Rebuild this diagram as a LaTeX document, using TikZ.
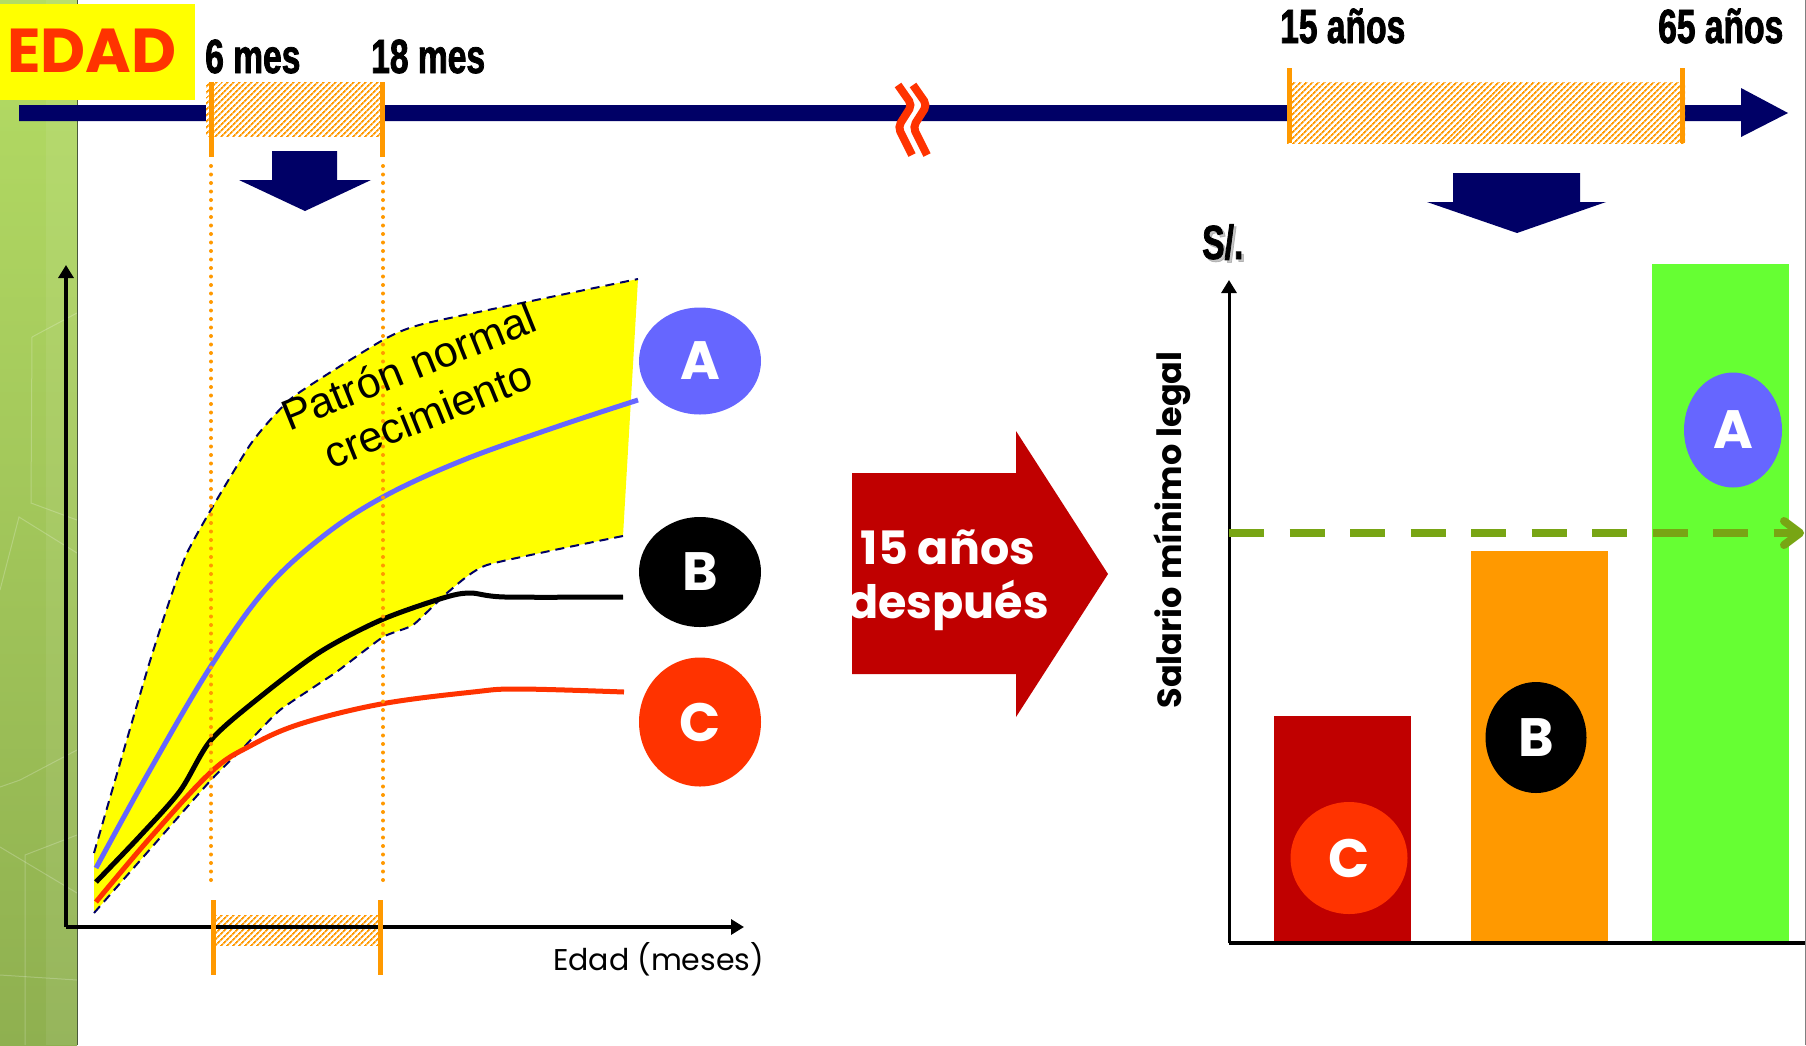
\documentclass[tikz,border=0pt]{standalone}
\usepackage{fontspec}
\usetikzlibrary{patterns.meta,shapes.geometric,arrows.meta}
\setmainfont{Liberation Sans}
\newfontfamily\gothicfam{Poppins}
\newfontfamily\impactfam[FakeStretch=0.70,FakeBold=1.6]{Liberation Sans}
\definecolor{navyb}{HTML}{000066}
\definecolor{orng}{HTML}{FF9900}
\definecolor{redor}{HTML}{FF3300}
\definecolor{darkred}{HTML}{C00000}
\definecolor{blueA}{HTML}{6666FF}
\definecolor{limeg}{HTML}{66FF33}
\definecolor{olivegr}{HTML}{78A514}
\definecolor{yel}{HTML}{FFFF00}
\definecolor{stripTop}{HTML}{B4DC64}
\definecolor{stripBot}{HTML}{8FB050}
\definecolor{edgegray}{HTML}{4A5A3A}
\newcommand\impf{\impactfam\bfseries\fontsize{48}{48}\selectfont}
\newcommand\circf{\gothicfam\bfseries\fontsize{54}{54}\selectfont}
\begin{document}
\begin{tikzpicture}[x=1pt,y=-1pt,
  imp/.style={font=\impf, inner sep=0, anchor=base west, text=black},
  circ/.style={ellipse, inner sep=0, text=white, font=\circf},
  hatch/.style={pattern={Lines[angle=45,distance=4pt,line width=1.9pt]}, pattern color=orng},
  tickline/.style={orng, line width=5},
  dotline/.style={orng, line width=4, line cap=round, dash pattern=on 0pt off 8.5pt},
  bound/.style={navyb, line width=2, dash pattern=on 9pt off 6pt},
  crv/.style={line width=5},
  axisline/.style={black, line width=3.5, -{Triangle[width=15pt,length=13pt]}},
  darrow/.style={fill=navyb},
  bar/.style={inner sep=0, anchor=south west}
]
\useasboundingbox (0,0) rectangle (1806,1045);
\fill[white] (0,0) rectangle (1806,1045);

% ---- green strip
\shade[top color=stripTop, bottom color=stripBot] (0,0) rectangle (77,1045);
\fill[white, opacity=0.07] (46,0) rectangle (77,1045);
\begin{scope}[white, opacity=0.22, line width=1]
  \draw (32,337) -- (77,313);
  \draw (32,337) -- (31,503) -- (77,520);
  \draw (0,590) -- (19,517) -- (77,553);
  \draw (0,787) -- (20,780) -- (77,750);
  \draw (0,847) -- (77,893);
  \draw (25,1045) -- (25,855) -- (77,835);
  \draw (0,975) -- (77,980);
\end{scope}
\draw[edgegray, line width=1.5] (77.5,0) -- (77.5,1045);

% ---- EDAD
\node[fill=yel, inner sep=0, minimum width=195, minimum height=96, anchor=north west] (edadbox) at (0,4) {};
\node[font=\gothicfam\bfseries\fontsize{62}{62}\selectfont, text=redor, inner sep=0, anchor=base] (edad) at (92,72) {EDAD};

% ---- timeline
\fill[navyb] (19,105) -- (1741,105) -- (1741,88) -- (1788,113) -- (1741,137) -- (1741,121) -- (19,121) -- cycle;

% break mark
\draw[white, line width=16, rounded corners=5] (905.5,85) -- (919.5,105) -- (905.5,127) -- (919.5,155);
\draw[redor, line width=8, rounded corners=5] (898,85) -- (912,105) -- (898,127) -- (912,155);
\draw[redor, line width=8, rounded corners=5] (913,85) -- (927,105) -- (913,127) -- (927,155);

% hatch box 1 (6-18 mes)
\fill[white] (206,82) rectangle (380,136);
\fill[hatch] (206,82) rectangle (380,136);
\draw[tickline] (211,82) -- (211,157);
\draw[tickline] (382,82) -- (382,157);

% hatch box 2 (15-65 anos)
\fill[white] (1287,82) rectangle (1685,143);
\fill[hatch] (1287,82) rectangle (1685,143);
\draw[tickline] (1289.5,68) -- (1289.5,143);
\draw[tickline] (1682.5,68) -- (1682.5,143);

% labels
\node[imp] (l6) at (205,73) {6 mes};
\node[imp] (l18) at (371,73) {18 mes};
\node[imp] (l15) at (1280,43) {15 años};
\node[imp] (l65) at (1658,43) {65 años};

% down arrows
\fill[darrow] (272,151) -- (337,151) -- (337,180) -- (371,180) -- (305,211) -- (239,180) -- (272,180) -- cycle;
\fill[darrow] (1453,173) -- (1580,173) -- (1580,202) -- (1606,202) -- (1517,233) -- (1427,202) -- (1453,202) -- cycle;

% ---- left chart
\fill[yel] plot[smooth, tension=0.3] coordinates {(94,853) (150,661) (187,553) (250,445) (293,397) (383,340) (427,323) (638,279)}
  -- plot[smooth, tension=0.3] coordinates {(623,536) (487,565) (447,593) (413,625) (383,637) (335,673) (280,710) (244,747) (211,780) (152,847) (94,913)} -- cycle;
\draw[bound] plot[smooth, tension=0.3] coordinates {(94,853) (150,661) (187,553) (250,445) (293,397) (383,340) (427,323) (638,279)};
\draw[bound] plot[smooth, tension=0.3] coordinates {(623,536) (487,565) (447,593) (413,625) (383,637) (335,673) (280,710) (244,747) (211,780) (152,847) (94,913)};

\draw[crv, blueA] plot[smooth, tension=0.6] coordinates {(96,868) (150,770) (211,666) (265,590) (322,537) (383,497) (461,461) (553,428) (638,400)};
\draw[crv, black] plot[smooth, tension=0.5] coordinates {(96,882) (140,836) (180,791) (211,740) (260,697) (320,652) (381,620) (443,598) (470,593) (505,597) (623,597)};
\draw[crv, redor] plot[smooth, tension=0.6] coordinates {(96,902) (150,838) (211,772) (250,746) (300,724) (381,704) (473,692) (519,689) (624,692)};

\draw[dotline] (211,166) -- (211,880);
\draw[dotline] (383,166) -- (383,880);

\node[font=\fontsize{43}{51}\selectfont, align=center, rotate=22, inner sep=0] (patron) at (418,390) {Patrón normal\\crecimiento};

% bottom hatch box
\fill[white] (216,915) rectangle (378,945);
\fill[hatch] (216,915) rectangle (378,945);

\coordinate (o1) at (66,927);
\draw[axisline] (o1) -- (66,265);
\draw[axisline] (o1) -- (744,927);

\draw[tickline] (213,900) -- (213,975);
\draw[tickline] (380,900) -- (380,975);

\node[font=\gothicfam\fontsize{30}{30}\selectfont, inner sep=0, anchor=base west] (edadlbl) at (553,970) {Edad (meses)};

\node[circ, fill=blueA, minimum width=122, minimum height=107] (cA) at (700,361) {A};
\node[circ, fill=black, minimum width=122, minimum height=110] (cB) at (700,572) {B};
\node[circ, fill=redor, minimum width=122, minimum height=129] (cC) at (700,722) {C};

% ---- big red arrow
\fill[darkred] (852,473) -- (1016,473) -- (1016,431) -- (1108,574) -- (1016,717) -- (1016,674) -- (852,674) -- cycle;
\node[font=\gothicfam\bfseries\fontsize{46}{46}\selectfont, text=white, inner sep=0, anchor=base] (desp1) at (948,564) {15 años};
\node[font=\gothicfam\bfseries\fontsize{46}{46}\selectfont, text=white, inner sep=0, anchor=base] (desp2) at (948,618) {después};

% ---- right chart
\node[bar, fill=darkred, minimum width=137, minimum height=226] (barC) at (1274,942) {};
\node[bar, fill=orng, minimum width=137, minimum height=391] (barB) at (1471,942) {};
\node[bar, fill=limeg, minimum width=137, minimum height=678] (barA) at (1652,942) {};

\node[circ, fill=redor, minimum width=117, minimum height=112] (rC) at (1349,858) {C};
\node[circ, fill=black, minimum width=101, minimum height=111] (rB) at (1536,737.5) {B};
\node[circ, fill=blueA, minimum width=98, minimum height=115] (rA) at (1733,430) {A};

\coordinate (o2) at (1229,943);
\draw[black, line width=3.5] (o2) -- (1806,943);
\draw[axisline, line width=3] (o2) -- (1229,280);

\coordinate (minw) at (1229,533);
\coordinate (minwend) at (1800,533);
\draw[olivegr, line width=8, dash pattern=on 35pt off 25.5pt] (minw) -- (minwend);
\draw[olivegr, line width=8, line cap=round, line join=round] (1784,521) -- (minwend) -- (1784,545);

\node[imp, text=gray, opacity=0.45] (sshadow) at (1204.5,261.5) {S/.};
\node[imp] (soles) at (1202,259) {S/.};

\node[font=\gothicfam\bfseries\fontsize{33.5}{33.5}\selectfont, rotate=90, inner sep=0] (salario) at (1172,530) {Salario mínimo legal};

% right border
\draw[gray, line width=1.5] (1805.25,0) -- (1805.25,1045);
\end{tikzpicture}
\end{document}
